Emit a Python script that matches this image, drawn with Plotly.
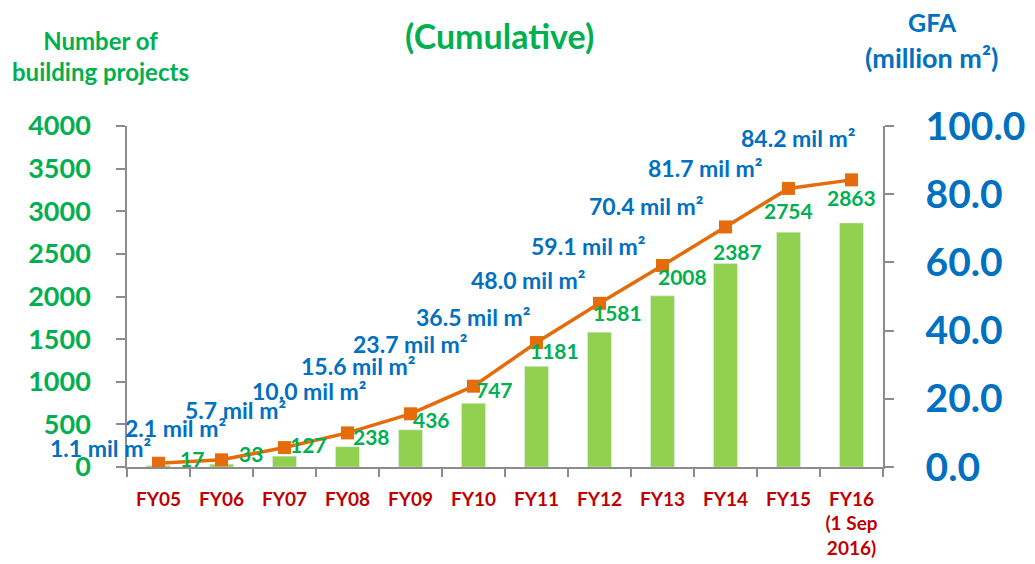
import plotly.graph_objects as go

# data
years = ["FY05", "FY06", "FY07", "FY08", "FY09", "FY10", "FY11",
         "FY12", "FY13", "FY14", "FY15", "FY16<br>(1 Sep<br>2016)"]
projects = [17, 33, 127, 238, 436, 747, 1181, 1581, 2008, 2387, 2754, 2863]
gfa = [1.1, 2.1, 5.7, 10.0, 15.6, 23.7, 36.5, 48.0, 59.1, 70.4, 81.7, 84.2]

# label nudges (pixels), to sit labels where the original has them
bar_dx = [33, 29, 24, 24, 21, 21, 18, 18, 20, 12, 0, 0]
bar_dy = [-3, 0, 1, 0, 0, 3, 5, 9, 9, 2, 11, 15]
gfa_dx = [-6, 6, 3, 20, 6, -5, -5, -13, -16, -21, -25, 5]
gfa_dy = [3, 20, 26, 30, 36, 30, 14, 11, 7, 9, 8, 30]

GREEN = "#00B050"
BLUE = "#0070C0"
RED = "#C00000"
ORANGE = "#E46C0A"
BARCOL = "#92D050"
AXIS = "#8C8C8C"
FONT = "Lato"

# page body has an 8px margin, so the figure is a bit smaller than the window
OFF = 8
W, H = 1035 - OFF, 564 - OFF
L, T = 127 - OFF, 126 - OFF
PW, PH = 756, 341
R, B = W - L - PW, H - T - PH

fig = go.Figure()
fig.add_trace(go.Bar(x=years, y=projects, marker_color=BARCOL, width=0.38,
                     name="Number of building projects"))
fig.add_trace(go.Scatter(x=years, y=gfa, yaxis="y2", mode="lines+markers",
                         line=dict(color=ORANGE, width=3.5),
                         marker=dict(symbol="square", size=13, color=ORANGE),
                         name="GFA"))

annotations = []
for i, (x, v) in enumerate(zip(years, projects)):
    annotations.append(dict(x=x, y=v, xref="x", yref="y", text=str(v),
                            showarrow=False, xanchor="center", yanchor="bottom",
                            xshift=bar_dx[i], yshift=bar_dy[i] - 4,
                            font=dict(family=FONT, size=21, color=GREEN, weight="bold")))
for i, (x, v) in enumerate(zip(years, gfa)):
    annotations.append(dict(x=x, y=v, xref="x", yref="y2", text=f"{v:.1f} mil m²",
                            showarrow=False, xanchor="right", yanchor="bottom",
                            xshift=gfa_dx[i], yshift=gfa_dy[i] - 4,
                            font=dict(family=FONT, size=23, color=BLUE, weight="bold")))


def px(x, y):
    # window pixel -> paper coords
    return (x - OFF - L) / PW, 1 - (y - OFF - T) / PH


for txt, (cx, cy), size, col in [
    ("(Cumulative)", (499, 35), 34, GREEN),
    ("Number of<br>building projects", (100, 56), 24, GREEN),
    ("GFA", (932, 22), 25, BLUE),
    ("(million m²)", (931, 58), 27, BLUE),
]:
    x, y = px(cx, cy)
    annotations.append(dict(x=x, y=y, xref="paper", yref="paper", text=txt,
                            showarrow=False, xanchor="center", yanchor="middle",
                            font=dict(family=FONT, size=size, color=col, weight="bold")))

fig.update_layout(
    width=W, height=H,
    margin=dict(l=L, r=R, t=T, b=B, autoexpand=False),
    plot_bgcolor="white", paper_bgcolor="white",
    showlegend=False,
    annotations=annotations,
    xaxis=dict(type="category", range=[-0.5, 11.5], showline=True, linecolor=AXIS,
               linewidth=1.5, ticks="outside", tickson="boundaries", ticklen=8,
               tickcolor=AXIS, tickwidth=1.5, ticklabelstandoff=14,
               tickfont=dict(family=FONT, size=19, color=RED, weight="bold")),
    yaxis=dict(range=[0, 4000], dtick=500, showgrid=False, zeroline=False,
               showline=True, linecolor=AXIS, linewidth=1.5,
               ticks="outside", ticklen=9, tickcolor=AXIS, tickwidth=1.5,
               ticklabelstandoff=20,
               tickfont=dict(family=FONT, size=27, color=GREEN, weight="bold")),
    yaxis2=dict(range=[0, 100], dtick=20, tickformat=".1f", overlaying="y", side="right",
                showgrid=False, zeroline=False, showline=True, linecolor=AXIS,
                linewidth=1.5, ticks="outside", ticklen=9, tickcolor=AXIS, tickwidth=1.5,
                ticklabelstandoff=24,
                tickfont=dict(family=FONT, size=39, color=BLUE, weight="bold")),
)

fig.write_html("out.html")
